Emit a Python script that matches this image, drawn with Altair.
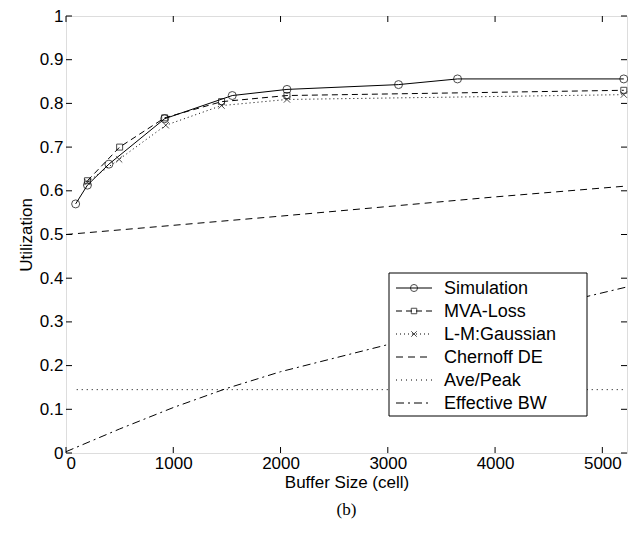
import altair as alt
import pandas as pd

# ---- data ----
sim_x = [90, 200, 400, 920, 1550, 2060, 3100, 3650, 5200]
sim_y = [0.570, 0.613, 0.661, 0.765, 0.818, 0.832, 0.843, 0.856, 0.856]

mva_x = [200, 500, 920, 1450, 2060, 5200]
mva_y = [0.623, 0.700, 0.767, 0.804, 0.818, 0.830]

lm_x = [200, 495, 930, 1450, 2060, 5200]
lm_y = [0.620, 0.672, 0.750, 0.795, 0.809, 0.820]

ch_x = [0, 1000, 2000, 3000, 4000, 5230]
ch_y = [0.500, 0.521, 0.542, 0.564, 0.586, 0.611]

ap_x = [100, 5200]
ap_y = [0.145, 0.145]

eb_x = [0, 500, 1000, 1500, 2000, 3000, 4000, 5230]
eb_y = [0.003, 0.055, 0.104, 0.148, 0.186, 0.248, 0.308, 0.380]

x_ticks = [0, 1000, 2000, 3000, 4000, 5000]
y_ticks = [0, 0.1, 0.2, 0.3, 0.4, 0.5, 0.6, 0.7, 0.8, 0.9, 1.0]

names = ["Simulation", "MVA-Loss", "L-M:Gaussian", "Chernoff DE", "Ave/Peak", "Effective BW"]

W, H = 561, 437
FONT = "Liberation Sans"
XSHAPE = "M-1,-1L1,1M-1,1L1,-1"

xs = alt.Scale(domain=[0, 5230], nice=False, zero=False)
ys = alt.Scale(domain=[0, 1], nice=False, zero=False)

def df(x, y):
    return pd.DataFrame({"x": x, "y": y})

X = alt.X("x:Q", scale=xs, title="Buffer Size (cell)",
          axis=alt.Axis(values=x_ticks, format="d", domain=False, ticks=False, grid=False,
                        labelFont=FONT, labelFontSize=17, labelColor="black",
                        labelPadding=2, titleFont=FONT, titleFontSize=17,
                        titleFontWeight="normal", titleColor="black", titlePadding=3))
Y = alt.Y("y:Q", scale=ys, title="Utilization",
          axis=alt.Axis(values=y_ticks, domain=False, ticks=False, grid=False,
                        labelExpr="datum.value == 0 ? '0' : datum.value == 1 ? '1' : format(datum.value, '.1f')",
                        labelFont=FONT, labelFontSize=17, labelColor="black",
                        labelPadding=3, titleFont=FONT, titleFontSize=17,
                        titleFontWeight="normal", titleColor="black", titlePadding=4))

def line(x, y, dash=None):
    kw = dict(color="black", strokeWidth=1)
    if dash:
        kw["strokeDash"] = dash
    return alt.Chart(df(x, y)).mark_line(**kw).encode(x=X, y=Y)

def pts(x, y, shape, size):
    return alt.Chart(df(x, y)).mark_point(shape=shape, size=size, color="black",
                                          filled=False, strokeWidth=1).encode(x=X, y=Y)

layers = [
    line(ap_x, ap_y, [1, 4]),
    line(eb_x, eb_y, [8, 4, 2, 4]),
    line(ch_x, ch_y, [7, 5]),
    line(lm_x, lm_y, [1, 3]),
    pts(lm_x, lm_y, XSHAPE, 40),
    line(mva_x, mva_y, [6, 4]),
    pts(mva_x, mva_y, "square", 36),
    line(sim_x, sim_y),
    pts(sim_x, sim_y, "circle", 64),
]

# inward ticks on all four sides (MATLAB box style)
tx = pd.DataFrame({"x": x_ticks})
ty = pd.DataFrame({"y": y_ticks})
layers += [
    alt.Chart(tx).mark_rule(color="black").encode(x=X, y=alt.value(H), y2=alt.value(H - 6)),
    alt.Chart(tx).mark_rule(color="black").encode(x=X, y=alt.value(0), y2=alt.value(6)),
    alt.Chart(ty).mark_rule(color="black").encode(y=Y, x=alt.value(0), x2=alt.value(6)),
    alt.Chart(ty).mark_rule(color="black").encode(y=Y, x=alt.value(W - 6), x2=alt.value(W)),
]

# manual legend
LX0, LX1, LT, LB = 323, 521, 257, 400
row_y = [272, 295, 318, 341, 364, 387]
styles = [
    (None, "circle", 50),
    ([6, 4], "square", 30),
    ([1, 3], XSHAPE, 30),
    ([7, 5], None, 0),
    ([1, 4], None, 0),
    ([8, 4, 2, 4], None, 0),
]
legend_df = pd.DataFrame({"name": names})
layers.append(
    alt.Chart(legend_df.head(1)).mark_rect(fill="white", stroke="black", strokeWidth=1).encode(
        x=alt.value(LX0), x2=alt.value(LX1), y=alt.value(LT), y2=alt.value(LB))
)
for i, (dash, shape, size) in enumerate(styles):
    one = legend_df.iloc[[i]]
    kw = dict(color="black", strokeWidth=1)
    if dash:
        kw["strokeDash"] = dash
    layers.append(alt.Chart(one).mark_rule(**kw).encode(
        x=alt.value(330), x2=alt.value(366), y=alt.value(row_y[i])))
    if shape:
        layers.append(alt.Chart(one).mark_point(shape=shape, size=size, color="black",
                                                filled=False, strokeWidth=1).encode(
            x=alt.value(348), y=alt.value(row_y[i])))
    layers.append(alt.Chart(one).mark_text(align="left", baseline="middle", font=FONT,
                                           fontSize=18, color="black").encode(
        x=alt.value(378), y=alt.value(row_y[i] + 1), text="name:N"))

chart = alt.layer(*layers).properties(
    width=W, height=H,
    title=alt.TitleParams("(b)", orient="bottom", font="Liberation Serif", fontSize=17,
                          fontWeight="normal", color="black", offset=12, anchor="middle"),
    autosize=alt.AutoSizeParams(type="none"),
    padding={"left": 58, "top": 8, "right": 1, "bottom": 80},
).configure_view(stroke="black", strokeWidth=1.2).configure(background="white")

chart.save("out.html", embed_options={"renderer": "svg", "actions": False})
